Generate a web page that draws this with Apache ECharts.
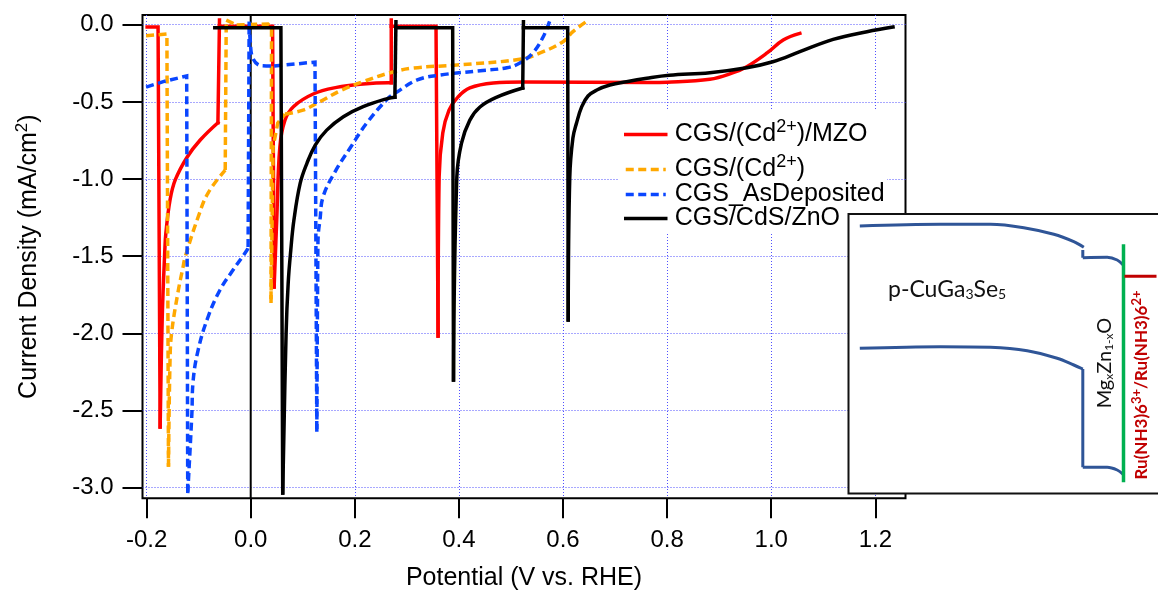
<!DOCTYPE html>
<html><head><meta charset="utf-8">
<style>html,body{margin:0;padding:0;background:#fff}#c{width:1158px;height:591px}</style>
<script src="https://cdn.jsdelivr.net/npm/echarts@6/dist/echarts.min.js"></script>
</head><body><div id="c"></div>
<script>
const xTicks=[-0.2,0,0.2,0.4,0.6,0.8,1.0,1.2];
const yTicks=[0,-0.5,-1,-1.5,-2,-2.5,-3];
const seriesNames=['CGS/(Cd2+)/MZO','CGS/(Cd2+)','CGS_AsDeposited','CGS/CdS/ZnO'];
const zeroLine=[[0,-3.069],[0,0.063]];
const redCurve=[
 [[-0.199,-0.015],[-0.178,-0.015],[-0.174,-2.607]],
 [[-0.174,-2.607],[-0.17,-1.9],[-0.165,-1.46],[-0.163,-1.35],[-0.155,-1.136],[-0.145,-1.006],[-0.122,-0.857],[-0.097,-0.747],[-0.063,-0.635]],
 [[-0.063,-0.635],[-0.06,0.03]],
 [[-0.06,-0.01],[0.042,-0.01],[0.045,-1.7]],
 [[0.045,-1.7],[0.05,-1.266],[0.056,-0.791],[0.0658,-0.618],[0.082,-0.531],[0.12,-0.449],[0.165,-0.406],[0.216,-0.384],[0.264,-0.376],[0.27,-0.376]],
 [[0.27,-0.376],[0.27,0.03]],
 [[0.27,-0.01],[0.356,-0.01],[0.36,-2.018]],
 [[0.36,-2.018],[0.362,-0.987],[0.369,-0.702],[0.381,-0.553],[0.398,-0.469],[0.421,-0.41],[0.466,-0.378],[0.523,-0.371],[0.767,-0.375],[0.8,-0.373],[0.882,-0.354],[0.927,-0.311],[0.953,-0.272],[0.992,-0.183],[1.023,-0.099],[1.055,-0.056]]
];
const orangeCurve=[
 [[-0.201,-0.071],[-0.161,-0.06],[-0.158,-2.865]],
 [[-0.158,-2.865],[-0.155,-2.173],[-0.152,-1.998],[-0.14,-1.739],[-0.13,-1.57],[-0.126,-1.506],[-0.101,-1.246],[-0.082,-1.091],[-0.049,-0.942]],
 [[-0.049,-0.942],[-0.047,0.03],[-0.027,-0.002]],
 [[-0.027,-0.002],[0.033,0.005],[0.04,-0.021],[0.039,-1.804]],
 [[0.039,-1.804],[0.043,-0.793],[0.052,-0.637],[0.066,-0.579]],
 [[0.066,-0.579],[0.1005,-0.553],[0.133,-0.499],[0.175,-0.423],[0.216,-0.369],[0.268,-0.311],[0.312,-0.281],[0.396,-0.261],[0.517,-0.224],[0.556,-0.183],[0.6,-0.11],[0.619,-0.045],[0.644,0.019]]
];
const blueCurve=[
 [[-0.201,-0.404],[-0.168,-0.369],[-0.123,-0.332],[-0.121,-3.035]],
 [[-0.121,-3.035],[-0.113,-2.517],[-0.111,-2.322],[-0.101,-2.108],[-0.082,-1.894],[-0.059,-1.719],[-0.034,-1.59],[-0.007,-1.46],[-0.005,-1.441]],
 [[-0.005,-1.441],[-0.003,0.019]],
 [[-0.003,0.019],[-0.001,-0.099],[0.004,-0.216],[0.021,-0.266],[0.045,-0.268]],
 [[0.045,-0.268],[0.1235,-0.242],[0.127,-2.638]],
 [[0.127,-2.638],[0.129,-1.46],[0.13,-1.35],[0.133,-1.266],[0.139,-1.115],[0.162,-0.953],[0.191,-0.799],[0.223,-0.637],[0.264,-0.477],[0.281,-0.436],[0.32,-0.358],[0.364,-0.326],[0.441,-0.298],[0.492,-0.279],[0.517,-0.248],[0.542,-0.183],[0.562,-0.078],[0.575,0.03]]
];
const blackCurve=[
 [[-0.069,-0.019],[0.058,-0.019],[0.0615,-3.035]],
 [[0.0615,-3.035],[0.068,-1.998],[0.072,-1.674],[0.077,-1.46],[0.083,-1.266],[0.095,-1.028],[0.108,-0.898],[0.124,-0.78],[0.146,-0.683],[0.178,-0.596],[0.216,-0.531],[0.264,-0.477],[0.277,-0.47]],
 [[0.277,-0.47],[0.279,0.019]],
 [[0.279,-0.019],[0.388,-0.019],[0.3896,-2.303]],
 [[0.3896,-2.303],[0.396,-0.987],[0.405,-0.767],[0.421,-0.618],[0.4405,-0.533],[0.473,-0.469],[0.5226,-0.41]],
 [[0.5226,-0.41],[0.524,0.019]],
 [[0.524,-0.019],[0.609,-0.019],[0.61,-1.914]],
 [[0.61,-1.914],[0.613,-0.987],[0.619,-0.734],[0.626,-0.637],[0.636,-0.531],[0.648,-0.462],[0.665,-0.423],[0.69,-0.391],[0.722,-0.369],[0.761,-0.347],[0.804,-0.328],[0.882,-0.311],[0.953,-0.279],[1.003,-0.24],[1.055,-0.175],[1.119,-0.095],[1.184,-0.045],[1.234,-0.015]]
];
const bandSegments=[
 [[11.3,12],[92,10.3],[142,10.3],[175.3,13.7],[205.3,20.3],[225.3,27.7],[235.3,33.3]],
 [[234.3,36],[234.3,43.7]],
 [[234.3,43.7],[258.7,43.3],[268.7,46],[274.7,51]],
 [[11.3,134.3],[92,132.7],[142,133.3],[178.7,136.7],[208.7,144.3],[225.3,151],[234.3,155]],
 [[234.3,155],[234.3,253.3]],
 [[234.3,253.3],[258.7,253.3],[268.7,256],[274.7,260.3]]
];
const interfaceLine=[[275,30.3],[275,268.3]];
const redoxLine=[[276,62.3],[308,62.3]];

const FONT='"Liberation Sans",Arial,sans-serif';
const dash=[8,4.5];
const curve=(name,segments,color,type,z)=>segments.map(data=>({name,type:'line',data,symbol:'none',showSymbol:false,silent:true,z,animation:false,clip:true,
  smooth:data.length>=5?0.4:false,
  lineStyle:{color,width:3.5,type,cap:type==='solid'?'square':'butt',join:'miter'},itemStyle:{color}}));
const insetLine=(data,color,width,smooth)=>({type:'line',xAxisIndex:1,yAxisIndex:1,data,symbol:'none',silent:true,z:6,animation:false,smooth,
  lineStyle:{color,width},itemStyle:{color}});
const legendRich={s:{fontFamily:FONT,fontSize:18,padding:[0,0,15,0],verticalAlign:'bottom',color:'#000'},
  t:{fontFamily:FONT,fontSize:25,color:'#000'},f:{fontFamily:FONT,fontSize:25,color:'#000',padding:[0,0,0,4]}};
const leg=(name,top,formatter)=>({show:true,data:[name],left:624,top,orient:'horizontal',itemWidth:40,itemHeight:14,itemGap:10,
  formatter,selectedMode:false,padding:0,z:3,itemStyle:{opacity:0},lineStyle:{width:3.5},textStyle:{fontFamily:FONT,fontSize:25,color:'#000',rich:legendRich}});
const chart=echarts.init(document.getElementById('c'),null,{renderer:'canvas'});
chart.setOption({
 animation:false,backgroundColor:'#fff',
 grid:[
  {left:142.5,top:15,width:763,height:483.3,show:true,borderColor:'#000',borderWidth:2,backgroundColor:'transparent',z:0,outerBoundsMode:'none'},
  {left:848.5,top:214,width:330,height:279.5,show:true,borderColor:'#111',borderWidth:2,backgroundColor:'#fff',z:5,outerBoundsMode:'none'}
 ],
 legend:[
  leg(seriesNames[0],118,()=>'{f|CGS/(Cd}{s|2+}{t|)/MZO}'),
  leg(seriesNames[1],153,()=>'{f|CGS/(Cd}{s|2+}{t|)}'),
  leg(seriesNames[2],182,()=>'{f|CGS_AsDeposited}'),
  leg(seriesNames[3],206,()=>'{f|CGS/CdS/ZnO}')
 ],
 xAxis:[
  {type:'value',gridIndex:0,min:-0.2079,max:1.258,
   name:'Potential (V vs. RHE)',nameLocation:'middle',nameGap:67,nameTextStyle:{fontFamily:FONT,fontSize:25,color:'#000'},
   axisLine:{show:false,onZero:false},
   axisTick:{show:true,length:20,lineStyle:{color:'#000',width:2},customValues:xTicks},
   axisLabel:{show:true,margin:30,fontFamily:FONT,fontSize:24,color:'#000',customValues:xTicks,formatter:v=>v.toFixed(1)},
   splitLine:{show:true,lineStyle:{color:'#5050ff',width:1,type:[1,2]}}},
  {type:'value',gridIndex:1,min:0,max:330,show:false}
 ],
 yAxis:[
  {type:'value',gridIndex:0,min:-3.069,max:0.063,
   name:'Current Density (mA/cm{s|2})',nameLocation:'middle',nameRotate:90,nameGap:98,
   nameTextStyle:{fontFamily:FONT,fontSize:25,color:'#000',rich:{s:{fontFamily:FONT,fontSize:17,padding:[0,0,14,0],color:'#000'}}},
   axisLine:{show:false,onZero:false},
   axisTick:{show:true,length:20,lineStyle:{color:'#000',width:2},customValues:yTicks},
   axisLabel:{show:true,margin:29,fontFamily:FONT,fontSize:24,color:'#000',customValues:yTicks,formatter:v=>v.toFixed(1)},
   splitLine:{show:true,lineStyle:{color:'#5050ff',width:1,type:[1,2]}}},
  {type:'value',gridIndex:1,min:0,max:279.5,inverse:true,show:false}
 ],
 series:[
  {type:'line',data:zeroLine,symbol:'none',silent:true,z:2,lineStyle:{color:'#000',width:2},legendHoverLink:false},
  ...curve(seriesNames[0],redCurve,'#ff0000','solid',3),
  ...curve(seriesNames[1],orangeCurve,'#ffa800',dash,4),
  ...curve(seriesNames[2],blueCurve,'#0a46ff',dash,4),
  ...curve(seriesNames[3],blackCurve,'#000000','solid',4),
  ...bandSegments.map(s=>insetLine(s,'#2f5597',3,s.length>2?0.35:false)),
  insetLine(interfaceLine,'#00b050',3.5,false),
  insetLine(redoxLine,'#c00000',3,false)
 ],
 graphic:[
  {type:'rect',z:1,silent:true,shape:{x:619,y:109,width:268,height:123},style:{fill:'#fff'}},
  {type:'text',z:7,silent:true,x:888,y:290,style:{text:'{a|p-CuGa}{b|3}{a|Se}{b|5}',align:'left',verticalAlign:'middle',
    rich:{a:{fontFamily:'Lato',fontSize:23,fill:'#111'},b:{fontFamily:'Lato',fontSize:14,padding:[9,0,0,0],fill:'#111'}}}},
  {type:'text',z:7,silent:true,x:1105,y:363,rotation:Math.PI/2,style:{text:'{a|Mg}{b|x}{a|Zn}{b|1-x}{a|O}',align:'center',verticalAlign:'middle',
    rich:{a:{fontFamily:'Lato',fontSize:20,fill:'#111'},b:{fontFamily:'Lato',fontSize:12,padding:[9,0,0,0],fill:'#111'}}}},
  {type:'text',z:7,silent:true,x:1142,y:385,rotation:Math.PI/2,style:{text:'{a|Ru(NH3)6}{b|3+}{a|/Ru(NH3)6}{b|2+}',align:'center',verticalAlign:'middle',
    rich:{a:{fontFamily:'Lato',fontWeight:'bold',fontSize:17,fill:'#c00000'},b:{fontFamily:'Lato',fontWeight:'bold',fontSize:13,padding:[0,0,11,0],fill:'#c00000'}}}}
 ]
});
</script></body></html>
